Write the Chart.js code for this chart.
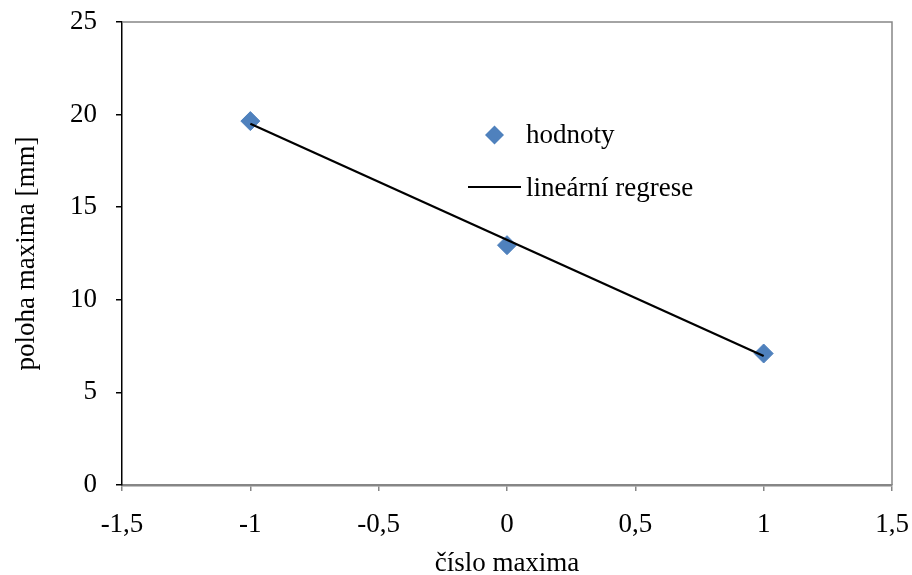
<!DOCTYPE html>
<html>
<head>
<meta charset="utf-8">
<script src="https://cdn.jsdelivr.net/npm/chart.js@4"></script>
<style>
  html, body { margin: 0; padding: 0; background: #fff; }
  #wrap { width: 912px; height: 575px; }
</style>
</head>
<body>
<div id="wrap"><canvas id="chart" width="912" height="575"></canvas></div>
<script>
// measured values
const xValues = [-1, 0, 1];
const yValues = [19.65, 12.95, 7.1];
// regression line end points
const fitX = [-1, 1];
const fitY = [19.5, 6.97];
const xTicks = [-1.5, -1, -0.5, 0, 0.5, 1, 1.5];
const yTicks = [0, 5, 10, 15, 20, 25];

const FONT = "'Liberation Serif', serif";
const SIZE = 27;
const blue = "#4f81bd";

const comma = v => String(v).replace(".", ",");

// plot frame + legend drawn inside the chart area
const framePlugin = {
  id: "frame",
  afterDraw(chart) {
    const { ctx, chartArea: a } = chart;
    ctx.save();
    ctx.strokeStyle = "#868686";
    ctx.lineWidth = 1.5;
    ctx.beginPath();
    ctx.moveTo(a.left, a.top);
    ctx.lineTo(a.right, a.top);
    ctx.lineTo(a.right, a.bottom);
    ctx.stroke();

    // legend
    ctx.fillStyle = blue;
    ctx.beginPath();
    ctx.moveTo(494.5, 125.5); ctx.lineTo(504, 135); ctx.lineTo(494.5, 144.5); ctx.lineTo(485, 135);
    ctx.closePath();
    ctx.fill();
    ctx.strokeStyle = "#000";
    ctx.lineWidth = 2;
    ctx.beginPath();
    ctx.moveTo(468, 187); ctx.lineTo(521, 187);
    ctx.stroke();
    ctx.fillStyle = "#000";
    ctx.font = SIZE + "px " + FONT;
    ctx.textBaseline = "alphabetic";
    ctx.fillText("hodnoty", 526, 143);
    ctx.fillText("lineární regrese", 526, 196);
    ctx.restore();
  }
};

new Chart(document.getElementById("chart"), {
  type: "scatter",
  data: {
    datasets: [
      {
        label: "hodnoty",
        data: xValues.map((x, i) => ({ x: x, y: yValues[i] })),
        pointStyle: "rectRot",
        pointRadius: 9.5,
        pointBorderWidth: 1,
        pointBackgroundColor: blue,
        pointBorderColor: blue,
        order: 2
      },
      {
        label: "lineární regrese",
        data: fitX.map((x, i) => ({ x: x, y: fitY[i] })),
        showLine: true,
        borderColor: "#000",
        borderWidth: 2.2,
        pointRadius: 0,
        order: 1
      }
    ]
  },
  options: {
    responsive: false,
    animation: false,
    layout: { padding: { top: 22, right: 20, left: 0, bottom: 0 } },
    plugins: { legend: { display: false }, tooltip: { enabled: false } },
    scales: {
      x: {
        type: "linear",
        min: -1.5,
        max: 1.5,
        afterBuildTicks: s => { s.ticks = xTicks.map(v => ({ value: v })); },
        afterFit: s => { s.height = 90; s.paddingLeft = 0; s.paddingRight = 0; },
        ticks: { callback: comma, color: "#000", font: { family: FONT, size: SIZE }, padding: 18, maxRotation: 0 },
        grid: { drawOnChartArea: false, drawTicks: true, tickLength: 6, color: "#868686", lineWidth: 1.5 },
        border: { color: "#868686", width: 2.5 },
        title: { display: true, text: "číslo maxima", color: "#000", font: { family: FONT, size: SIZE, lineHeight: 0.85 }, padding: { top: 0, bottom: 0 } }
      },
      y: {
        min: 0,
        max: 25,
        afterBuildTicks: s => { s.ticks = yTicks.map(v => ({ value: v })); },
        afterFit: s => { s.width = 122; s.paddingTop = 0; s.paddingBottom = 0; },
        ticks: { callback: comma, color: "#000", font: { family: FONT, size: SIZE }, padding: 19 },
        grid: { drawOnChartArea: false, drawTicks: true, tickLength: 6, color: "#000", lineWidth: 1.5 },
        border: { color: "#000", width: 1.5 },
        title: { display: true, text: "poloha maxima [mm]", color: "#000", font: { family: FONT, size: SIZE, lineHeight: 1 }, padding: { top: 13, bottom: 0 } }
      }
    }
  },
  plugins: [framePlugin]
});
</script>
</body>
</html>
